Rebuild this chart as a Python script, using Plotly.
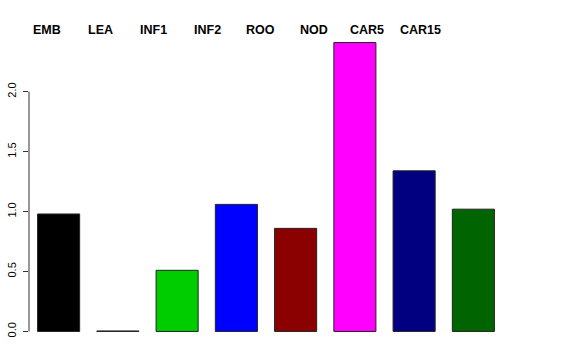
import plotly.graph_objects as go

categories = ["EMB", "LEA", "INF1", "INF2", "ROO", "NOD", "CAR5", "CAR15"]
values = [0.98, 0.004, 0.51, 1.06, 0.86, 2.41, 1.34, 1.02]
colors = ["#000000", "#FF0000", "#00CD00", "#0000FF", "#8B0000", "#FF00FF", "#000080", "#006400"]
ytick_vals = [0.0, 0.5, 1.0, 1.5, 2.0]
ytick_text = ["0.0", "0.5", "1.0", "1.5", "2.0"]

W, H = 576, 360
ml, mr, mt, mb = 29, 73, 31, 17
xpos = list(range(1, len(categories) + 1))

fig = go.Figure()
fig.add_trace(go.Bar(
    x=xpos, y=values,
    marker=dict(color=colors, line=dict(color="#222222", width=1)),
    width=0.71,
    hoverinfo="skip",
))

ymax = max(values) * 1.04
ymin = -max(values) * 0.04

# y axis line from 0 to 2 only (R style)
fig.add_shape(type="line", xref="paper", yref="y", x0=0, x1=0,
              y0=ytick_vals[0], y1=ytick_vals[-1],
              line=dict(color="#333333", width=1))

# top labels
plot_w = W - ml - mr
label_start_px, label_step_px = 47, 53.4
for i, c in enumerate(categories):
    px = label_start_px + i * label_step_px
    fig.add_annotation(x=(px - ml) / plot_w, xref="paper", y=1.003, yref="paper",
                       text="<b>%s</b>" % c, showarrow=False,
                       xanchor="center", yanchor="middle",
                       font=dict(family="Liberation Sans, Arial, sans-serif", size=12.5, color="black"))

fig.update_layout(
    width=W, height=H,
    margin=dict(l=ml, r=mr, t=mt, b=mb, autoexpand=False),
    plot_bgcolor="white", paper_bgcolor="white",
    showlegend=False,
    font=dict(family="Liberation Sans, Arial, sans-serif", size=11, color="black"),
    xaxis=dict(range=[0.5, 8.5], showticklabels=False, showgrid=False, zeroline=False,
               showline=False, ticks="", automargin=False),
    yaxis=dict(range=[ymin, ymax], tickvals=ytick_vals, ticktext=ytick_text,
               tickangle=-90, ticks="outside", ticklen=5, tickcolor="#333333",
               ticklabelstandoff=3,
               showgrid=False, zeroline=False, showline=False, automargin=False,
               tickfont=dict(size=11, color="black")),
)

fig.write_html("out.html", config={"displayModeBar": False},
               post_script="document.body.style.margin='0';")
